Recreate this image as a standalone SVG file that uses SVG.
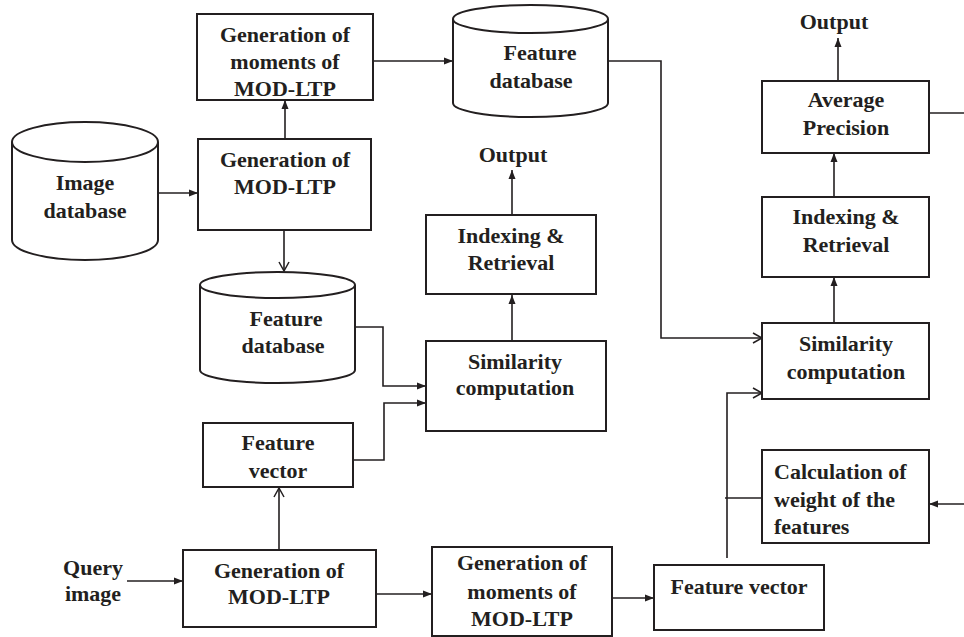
<svg xmlns="http://www.w3.org/2000/svg" width="964" height="637" viewBox="0 0 964 637">
<defs>
<style>
.b{fill:#fff;stroke:#231f20;stroke-width:2}
.c{fill:#fff;stroke:#231f20;stroke-width:2}
.t{font-family:"Liberation Serif","Times New Roman",serif;font-weight:bold;font-size:22px;fill:#231f20;text-anchor:middle}
.l{text-anchor:start}
.w{fill:none;stroke:#231f20;stroke-width:1.6}
.f{marker-end:url(#af)}
.o{marker-end:url(#ao)}
</style>
<marker id="af" markerUnits="userSpaceOnUse" markerWidth="10" markerHeight="8" refX="9" refY="4" orient="auto">
<path d="M0,0.5 L9,4 L0,7.5 z" fill="#231f20"/>
</marker>
<marker id="ao" markerUnits="userSpaceOnUse" markerWidth="12" markerHeight="12" refX="10" refY="6" orient="auto">
<path d="M1,1 L10,6 L1,11" fill="none" stroke="#231f20" stroke-width="1.5"/>
</marker>
</defs>
<rect width="964" height="637" fill="#fff"/>

<g id="connectors">
<line class="w f" x1="158" y1="193" x2="198" y2="193"/>
<line class="w f" x1="285" y1="139" x2="285" y2="100"/>
<line class="w f" x1="374" y1="61" x2="453" y2="61"/>
<line class="w o" x1="284" y1="230" x2="284" y2="271"/>
<polyline class="w f" points="355,327 383,327 383,386 426,386"/>
<polyline class="w f" points="353,460 384,460 384,403 426,403"/>
<line class="w f" x1="512" y1="341" x2="512" y2="295"/>
<line class="w f" x1="512" y1="215" x2="512" y2="170"/>
<line class="w f" x1="127" y1="581" x2="183" y2="581"/>
<line class="w o" x1="279" y1="550" x2="279" y2="488"/>
<line class="w f" x1="376" y1="594" x2="432" y2="594"/>
<line class="w f" x1="612" y1="598" x2="654" y2="598"/>
<polyline class="w o" points="727,558 727,393 762,393"/>
<line class="w" x1="725" y1="498" x2="762" y2="498"/>
<polyline class="w o" points="608,61 661,61 661,338 762,338"/>
<line class="w f" x1="834" y1="323" x2="834" y2="277"/>
<line class="w f" x1="834" y1="197" x2="834" y2="153"/>
<line class="w f" x1="838" y1="81" x2="838" y2="38"/>
<line class="w" x1="929" y1="113" x2="964" y2="113"/>
<line class="w f" x1="964" y1="504" x2="929" y2="504"/>
</g>

<g id="image-database">
<path class="c" d="M12,142 L12,240 A73,20 0 0 0 158,240 L158,142"/>
<ellipse class="c" cx="85" cy="142" rx="73" ry="20"/>
<text class="t" x="85" y="190">Image</text>
<text class="t" x="85" y="218">database</text>
</g>

<g id="gen-mod-ltp-top">
<rect class="b" x="198" y="139" width="173" height="91"/>
<text class="t" x="285" y="167">Generation of</text>
<text class="t" x="285" y="194">MOD-LTP</text>
</g>

<g id="gen-moments-top">
<rect class="b" x="197" y="14" width="176" height="86"/>
<text class="t" x="285" y="42">Generation of</text>
<text class="t" x="285" y="69">moments of</text>
<text class="t" x="285" y="96">MOD-LTP</text>
</g>

<g id="feature-db-top">
<path class="c" d="M453,19 L453,103 A77.5,14 0 0 0 608,103 L608,19"/>
<ellipse class="c" cx="530.5" cy="19" rx="77.5" ry="14"/>
<text class="t" x="540" y="60">Feature</text>
<text class="t" x="531" y="88">database</text>
</g>

<g id="feature-db-lower">
<path class="c" d="M200,285 L200,370 A77.5,13 0 0 0 355,370 L355,285"/>
<ellipse class="c" cx="277.5" cy="285" rx="77.5" ry="13"/>
<text class="t" x="286" y="326">Feature</text>
<text class="t" x="283" y="353">database</text>
</g>

<g id="output-mid">
<text class="t" x="513" y="162">Output</text>
</g>

<g id="indexing-mid">
<rect class="b" x="426" y="215" width="170" height="79"/>
<text class="t" x="511" y="243">Indexing &amp;</text>
<text class="t" x="511" y="270">Retrieval</text>
</g>

<g id="similarity-mid">
<rect class="b" x="426" y="341" width="180" height="90"/>
<text class="t" x="515" y="369">Similarity</text>
<text class="t" x="515" y="395">computation</text>
</g>

<g id="feature-vector-left">
<rect class="b" x="203" y="423" width="150" height="64"/>
<text class="t" x="278" y="450">Feature</text>
<text class="t" x="278" y="478">vector</text>
</g>

<g id="query-image">
<text class="t" x="93" y="575">Query</text>
<text class="t" x="93" y="601">image</text>
</g>

<g id="gen-mod-ltp-bottom">
<rect class="b" x="183" y="550" width="193" height="77"/>
<text class="t" x="279" y="578">Generation of</text>
<text class="t" x="279" y="604">MOD-LTP</text>
</g>

<g id="gen-moments-bottom">
<rect class="b" x="432" y="547" width="180" height="89"/>
<text class="t" x="522" y="570">Generation of</text>
<text class="t" x="522" y="599">moments of</text>
<text class="t" x="522" y="626">MOD-LTP</text>
</g>

<g id="feature-vector-right">
<rect class="b" x="654" y="565" width="170" height="65"/>
<text class="t" x="739" y="594">Feature vector</text>
</g>

<g id="calculation-weight">
<rect class="b" x="762" y="450" width="167" height="93"/>
<text class="t l" x="774" y="479">Calculation of</text>
<text class="t l" x="774" y="507">weight of the</text>
<text class="t l" x="774" y="534">features</text>
</g>

<g id="similarity-right">
<rect class="b" x="762" y="323" width="167" height="76"/>
<text class="t" x="846" y="351">Similarity</text>
<text class="t" x="846" y="379">computation</text>
</g>

<g id="indexing-right">
<rect class="b" x="762" y="197" width="167" height="80"/>
<text class="t" x="846" y="224">Indexing &amp;</text>
<text class="t" x="846" y="252">Retrieval</text>
</g>

<g id="average-precision">
<rect class="b" x="762" y="81" width="167" height="72"/>
<text class="t" x="846" y="107">Average</text>
<text class="t" x="846" y="135">Precision</text>
</g>

<g id="output-right">
<text class="t" x="834" y="29">Output</text>
</g>
</svg>
